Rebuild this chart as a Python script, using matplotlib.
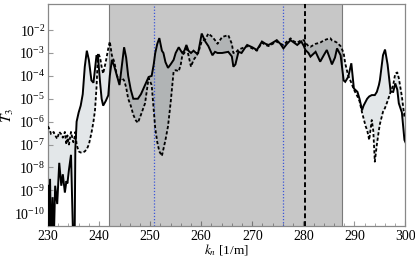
import numpy as np
import matplotlib
matplotlib.use('Agg')
import matplotlib.pyplot as plt
from matplotlib.ticker import FixedLocator, LogLocator, NullFormatter, MultipleLocator

plt.rcParams['font.family'] = 'serif'
plt.rcParams['font.serif'] = ['Liberation Serif', 'DejaVu Serif']
plt.rcParams['mathtext.fontset'] = 'stix'

# wavenumber samples [1/m]
k_n = [230.0, 230.2, 230.4, 230.6, 230.9, 231.1, 231.4, 231.8, 232.2, 232.6,
       232.9, 233.3, 233.6, 233.8, 234.1, 234.5, 234.96, 235.2, 235.35, 235.6,
       236.0, 236.4, 236.8, 237.2, 237.6, 238.0, 238.5, 238.9, 239.2, 239.5,
       239.8, 240.2, 240.5, 240.8, 241.3, 241.8, 242.1, 242.5, 243.0, 243.5,
       244.0, 244.5, 244.9, 245.3, 245.7, 246.2, 246.7, 247.2, 247.6, 248.2,
       249.0, 249.7, 250.3, 250.7, 251.0, 251.4, 251.8, 252.3, 252.6, 253.0,
       253.5, 254.0, 254.6, 255.0, 255.6, 256.0, 256.3, 256.7, 257.1, 257.5,
       258.0, 258.5, 259.0, 259.4, 260.1, 260.8, 261.4, 262.2, 262.7, 263.2,
       264.1, 265.3, 266.0, 266.3, 266.7, 267.3, 267.9, 268.5, 269.0, 270.0,
       270.9, 271.9, 272.6, 273.2, 274.0, 274.8, 275.5, 276.1, 276.8, 277.5,
       278.2, 278.8, 279.6, 280.1, 280.4, 281.0, 281.4, 282.4, 283.3, 284.0,
       284.6, 285.3, 285.6, 286.2, 286.6, 287.3, 287.9, 288.2, 288.8, 289.4,
       289.9, 290.6, 291.0, 291.5, 291.8, 292.2, 292.5, 292.9, 293.4, 293.7,
       294.0, 294.4, 294.8, 295.0, 295.6, 296.0, 296.5, 297.1, 297.6, 298.0,
       298.4, 298.7, 299.3, 299.8, 300.0]

# log10 of T_3, solid curve
log_T3_solid = [-8.8, -11.5, -8.5, -11.5, -9.3, -11.5, -8.8, -9.6, -7.8, -8.8,
                -8.3, -9.1, -8.6, -8.7, -8.1, -7.45, -11.5, -11.5, -7.2, -6.0,
                -5.6, -5.3, -4.8, -3.6, -2.9, -3.3, -4.2, -4.3, -3.7, -3.1,
                -3.2, -4.3, -5.0, -5.3, -5.1, -4.85, -4.0, -3.3, -3.6, -4.0,
                -4.4, -3.5, -2.75, -3.2, -4.0, -4.6, -5.0, -5.0, -5.0, -4.8,
                -4.4, -4.05, -4.0, -3.5, -3.0, -2.6, -2.35, -2.9, -3.0, -3.4,
                -3.65, -3.5, -3.3, -3.0, -2.75, -2.9, -3.0, -2.9, -2.65, -2.9,
                -3.0, -2.9, -3.0, -3.0, -2.15, -2.5, -2.7, -3.1, -2.95, -3.0,
                -3.0, -2.95, -3.15, -3.6, -3.5, -2.95, -3.0, -2.8, -2.65, -2.75,
                -2.87, -2.5, -2.6, -2.65, -2.55, -2.44, -2.6, -2.8, -2.6, -2.44,
                -2.55, -2.65, -2.5, -2.7, -2.87, -3.0, -3.16, -2.95, -3.38, -3.1,
                -2.87, -3.3, -3.5, -3.2, -2.8, -3.1, -4.2, -4.26, -4.04, -3.45,
                -4.55, -4.7, -5.0, -5.5, -5.3, -5.13, -5.0, -4.9, -4.84, -4.84,
                -4.84, -4.7, -4.4, -4.18, -3.1, -2.85, -3.5, -4.69, -4.7, -4.33,
                -4.6, -5.2, -5.6, -6.8, -6.9]

# log10 of T_3, dotted curve
log_T3_dotted = [-6.2, -6.3, -6.4, -6.55, -6.5, -6.45, -6.6, -6.75, -6.45, -6.55,
                 -6.7, -6.45, -7.0, -6.6, -7.0, -6.45, -6.9, -6.7, -6.45, -7.0,
                 -7.3, -7.35, -7.35, -7.3, -7.2, -7.0, -6.5, -6.0, -5.5, -4.5,
                 -3.0, -3.2, -3.6, -3.9, -3.4, -2.8, -2.5, -3.1, -3.4, -4.0,
                 -4.2, -4.1, -4.2, -4.5, -5.0, -5.3, -5.7, -5.95, -6.05, -5.7,
                 -5.2, -4.1, -4.4, -5.5, -6.3, -6.9, -7.3, -7.5, -7.2, -6.8,
                 -6.2, -5.2, -3.8, -3.75, -3.8, -3.5, -3.1, -3.0, -2.7, -3.1,
                 -3.6, -3.3, -3.15, -3.0, -2.5, -2.4, -2.15, -2.3, -2.44, -2.6,
                 -2.3, -2.22, -2.6, -3.0, -3.0, -2.85, -2.8, -2.75, -2.7, -2.8,
                 -2.9, -2.55, -2.65, -2.7, -2.6, -2.5, -2.6, -2.65, -2.5, -2.36,
                 -2.5, -2.55, -2.44, -2.44, -2.55, -2.7, -2.73, -2.6, -2.55, -2.45,
                 -2.4, -2.36, -2.45, -2.5, -2.55, -2.7, -3.0, -3.45, -4.0, -4.3,
                 -4.6, -4.9, -5.1, -5.6, -5.86, -6.2, -6.37, -6.8, -5.93, -6.4,
                 -7.75, -7.0, -6.37, -6.1, -5.57, -5.4, -5.1, -4.7, -4.4, -3.9,
                 -3.85, -4.1, -4.9, -5.8, -5.6]

band = (242.0, 287.5)         # shaded k range
blue_lines = [250.8, 276.0]   # dotted markers
black_line = 280.4            # dashed marker

k = np.array(k_n)
T_solid = 10.0 ** np.array(log_T3_solid)
T_dotted = 10.0 ** np.array(log_T3_dotted)

fig = plt.figure(figsize=(4.15, 2.58), dpi=100)
ax = fig.add_axes([0.1157, 0.124, 0.8613, 0.8605])

ax.fill_between(k, T_solid, T_dotted, color='#e3e7e9', lw=0, zorder=1)
ax.axvspan(band[0], band[1], facecolor='black', alpha=0.22, edgecolor='none', zorder=2)
for xb in band:
    ax.axvline(xb, color='#7a7a7a', lw=0.8, zorder=2.5)

ax.plot(k, T_solid, color='black', lw=1.4, zorder=4, solid_joinstyle='miter')
ax.plot(k, T_dotted, color='black', lw=1.3, ls=(0, (1.8, 1.2)), zorder=4)

for xb in blue_lines:
    ax.axvline(xb, color='#3a55d8', lw=0.9, ls=(0, (1, 1.5)), zorder=3)
ax.axvline(black_line, color='black', lw=1.4, ls=(0, (2.5, 1.5)), zorder=3)

ax.set_yscale('log')
ax.set_xlim(230, 300)
ax.set_ylim(10 ** -10.56, 10 ** -0.86)

ax.xaxis.set_major_locator(MultipleLocator(10))
ax.xaxis.set_minor_locator(MultipleLocator(2))
ax.yaxis.set_major_locator(FixedLocator([10.0 ** e for e in range(-10, -1)]))
ax.yaxis.set_minor_locator(LogLocator(base=10, subs=np.arange(2, 10)))
ax.yaxis.set_minor_formatter(NullFormatter())

for s in ax.spines.values():
    s.set_color('#888888')
    s.set_linewidth(0.9)
ax.tick_params(which='both', direction='in', color='#999999', top=False, right=False,
               labelsize=10)
ax.tick_params(which='major', length=3.5)
ax.tick_params(which='minor', length=2)
ax.tick_params(axis='x', pad=3)
ax.tick_params(axis='y', pad=2)

ax.set_xlabel('$k_n$ [1/m]', fontsize=9.5)
ax.set_ylabel('$T_3$', fontsize=11)
ax.xaxis.set_label_coords(0.5, -0.075)
ax.yaxis.set_label_coords(-0.09, 0.5)

fig.savefig('out.png', dpi=100)
